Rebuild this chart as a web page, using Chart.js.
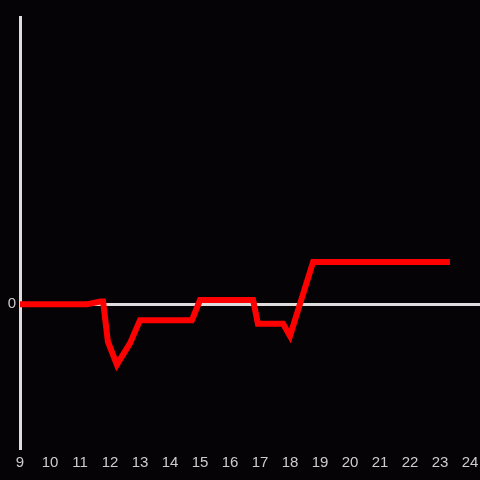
<!DOCTYPE html>
<html>
<head>
<meta charset="UTF-8">
<title>Line</title>
<script src="https://cdn.jsdelivr.net/npm/chart.js"></script>
<style>
  html, body { margin: 0; padding: 0; background: #050306; }
  #wrap { width: 480px; height: 480px; }
</style>
</head>
<body>
<div id="wrap"><canvas id="chart"></canvas></div>
<script>
// hours of day and the value at each point
const times  = [9.0, 11.23, 11.67, 11.77, 11.93, 12.23, 12.67, 13.0, 14.73, 15.0, 16.77, 16.93, 17.77, 18.0, 18.77, 23.33];
const values = [0, 0, 0.02, 0.02, -0.26, -0.42, -0.27, -0.11, -0.11, 0.03, 0.03, -0.135, -0.135, -0.22, 0.295, 0.295];
const xTicks = [9, 10, 11, 12, 13, 14, 15, 16, 17, 18, 19, 20, 21, 22, 23, 24];
const yTicks = [0];

const points = times.map((t, i) => ({ x: t, y: values[i] }));

new Chart(document.getElementById('chart'), {
  type: 'line',
  data: {
    datasets: [{
      data: points,
      borderColor: '#ff0000',
      borderWidth: 6,
      pointRadius: 0,
      tension: 0,
      fill: false
    }]
  },
  options: {
    responsive: true,
    maintainAspectRatio: false,
    animation: false,
    layout: { padding: { top: 17, left: 0, right: 0, bottom: 0 } },
    plugins: { legend: { display: false }, tooltip: { enabled: false } },
    scales: {
      x: {
        type: 'linear',
        min: 9,
        max: 24 + 1 / 3,
        border: { display: false },
        grid: { display: false },
        afterBuildTicks: s => { s.ticks = xTicks.map(v => ({ value: v })); },
        afterFit: s => {
          s.height = 32;
          s.paddingLeft = 0; s.paddingRight = 0;
        },
        ticks: {
          color: '#cccccc',
          padding: -2,
          maxRotation: 0,
          autoSkip: false,
          font: { family: 'Liberation Sans', size: 15 }
        }
      },
      y: {
        min: -1,
        max: 2,
        border: { display: true, color: '#dddddd', width: 3 },
        grid: {
          drawTicks: false,
          lineWidth: 3,
          color: ctx => (ctx.tick && ctx.tick.value === 0 ? '#dddddd' : 'rgba(0,0,0,0)')
        },
        afterBuildTicks: s => { s.ticks = yTicks.map(v => ({ value: v })); },
        afterFit: s => {
          s.width = 20;
          s.paddingTop = 0; s.paddingBottom = 0;
        },
        ticks: {
          color: '#cccccc',
          padding: 4,
          font: { family: 'Liberation Sans', size: 15 }
        }
      }
    }
  }
});
</script>
</body>
</html>
